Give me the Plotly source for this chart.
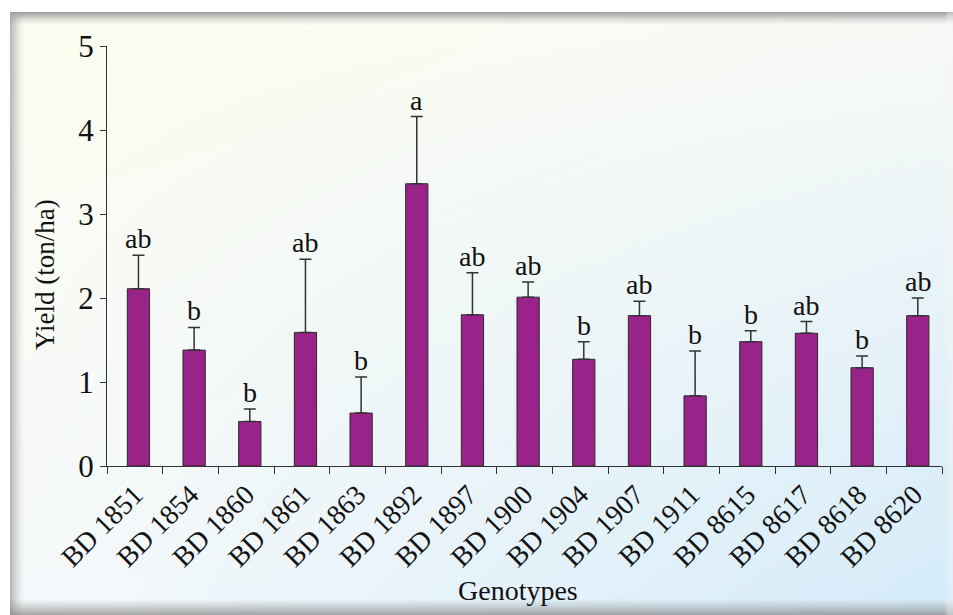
import numpy as np
import zlib, struct, base64
import plotly.graph_objects as go

# ---------------- data ----------------
genotypes = ["BD 1851", "BD 1854", "BD 1860", "BD 1861", "BD 1863", "BD 1892", "BD 1897",
             "BD 1900", "BD 1904", "BD 1907", "BD 1911", "BD 8615", "BD 8617", "BD 8618", "BD 8620"]
yield_mean = [2.11, 1.38, 0.53, 1.59, 0.63, 3.36, 1.80, 2.01, 1.27, 1.79, 0.835, 1.48, 1.58, 1.17, 1.79]
yield_err = [0.40, 0.27, 0.15, 0.87, 0.43, 0.80, 0.50, 0.18, 0.21, 0.17, 0.535, 0.13, 0.14, 0.14, 0.21]
letters = ["ab", "b", "b", "ab", "b", "a", "ab", "ab", "b", "ab", "b", "b", "ab", "b", "ab"]
y_ticks = [0, 1, 2, 3, 4, 5]

# ---------------- geometry ----------------
W, H = 953, 615
ML, MR, MT, MB = 107, 11, 46, 149
PW, PH = W - ML - MR, H - MT - MB

# ---------------- background image (gradient + frame shadow) ----------------
yy, xx = np.mgrid[0:H, 0:W].astype(float)
u = (xx / W)[..., None]
v = (yy / H)[..., None]
TL = np.array([253, 253, 240.0])
TR = np.array([250, 251, 247.0])
BL = np.array([247, 250, 252.0])
BR = np.array([212, 235, 250.0])
img = TL * (1 - u) * (1 - v) + TR * u * (1 - v) + BL * (1 - u) * v + BR * u * v

def blend(mask_alpha, gray):
    global img
    a = mask_alpha[..., None]
    img = img * (1 - a) + gray * a

X0, Y0 = 10, 12
a = np.clip(1 - (yy - Y0) / 14.0, 0, 1) ** 1.6 * (yy >= Y0)
blend(a * 0.9, 150.0)
a = np.clip(1 - (xx - X0) / 15.0, 0, 1) ** 1.6 * (xx >= X0)
blend(a * 0.75, 160.0)
a = np.clip((yy - 598) / 17.0, 0, 1) ** 1.2
blend(a * 0.8, 140.0)
a = np.clip((xx - 944) / 4.0, 0, 1)
blend(a * 0.4, 245.0)
outside = ((yy < Y0) | (xx < X0))[..., None]
img = np.where(outside, 255.0, img)
img = np.clip(img, 0, 255).astype(np.uint8)

def png_bytes(arr):
    h, w, _ = arr.shape
    raw = b"".join(b"\x00" + arr[i].tobytes() for i in range(h))
    def chunk(tag, data):
        c = struct.pack(">I", len(data)) + tag + data
        return c + struct.pack(">I", zlib.crc32(tag + data) & 0xffffffff)
    return (b"\x89PNG\r\n\x1a\n" + chunk(b"IHDR", struct.pack(">IIBBBBB", w, h, 8, 2, 0, 0, 0))
            + chunk(b"IDAT", zlib.compress(raw, 9)) + chunk(b"IEND", b""))

bg_src = "data:image/png;base64," + base64.b64encode(png_bytes(img)).decode()

# ---------------- figure ----------------
FONT = "Liberation Serif"
BAR_W = 0.4
BAR_SHIFT = 0.065

fig = go.Figure()
fig.add_trace(go.Bar(
    x=genotypes, y=yield_mean,
    width=BAR_W, offset=-BAR_W / 2 + BAR_SHIFT,
    marker=dict(color="#9A2389", line=dict(color="#2a2a2a", width=1)),
    error_y=dict(type="data", symmetric=False, array=yield_err,
                 arrayminus=[0] * len(yield_err),
                 color="#333333", thickness=1.5, width=6),
    showlegend=False, hoverinfo="skip",
))

annotations = []
for g, m, e, t in zip(genotypes, yield_mean, yield_err, letters):
    annotations.append(dict(x=g, y=m + e, text=t, showarrow=False, xref="x", yref="y",
                            yanchor="bottom", xanchor="center", xshift=3.5, yshift=-1,
                            font=dict(family=FONT, size=28, color="#111111")))

annotations.append(dict(text="Yield (ton/ha)", xref="paper", yref="paper",
                        x=(45 - ML) / PW, y=1 - (274 - MT) / PH, textangle=-90,
                        showarrow=False, xanchor="center", yanchor="middle",
                        font=dict(family=FONT, size=27, color="#111111")))
annotations.append(dict(text="Genotypes", xref="paper", yref="paper",
                        x=(518 - ML) / PW, y=1 - (590 - MT) / PH,
                        showarrow=False, xanchor="center", yanchor="middle",
                        font=dict(family=FONT, size=28, color="#111111")))

fig.update_layout(
    width=W, height=H,
    margin=dict(l=ML, r=MR, t=MT, b=MB, pad=0),
    paper_bgcolor="rgba(0,0,0,0)", plot_bgcolor="rgba(0,0,0,0)",
    annotations=annotations,
    images=[dict(source=bg_src, xref="paper", yref="paper",
                 x=-ML / PW, y=1 + MT / PH, sizex=W / PW, sizey=H / PH,
                 sizing="stretch", xanchor="left", yanchor="top", layer="below")],
    xaxis=dict(type="category", showgrid=False, zeroline=False,
               showline=True, linecolor="#333333", linewidth=1,
               ticks="outside", tickson="boundaries", ticklen=7, tickcolor="#333333",
               tickangle=-45, tickfont=dict(family=FONT, size=28, color="#111111"),
               range=[-0.5, len(genotypes) - 0.5]),
    yaxis=dict(range=[0, 5], tickvals=y_ticks, showgrid=False, zeroline=False,
               showline=True, linecolor="#333333", linewidth=1,
               ticks="outside", ticklen=6, tickcolor="#333333",
               tickfont=dict(family=FONT, size=31, color="#111111")),
)

fig.write_html("out.html", config={"displayModeBar": False},
               post_script="document.body.style.margin='0px';")
